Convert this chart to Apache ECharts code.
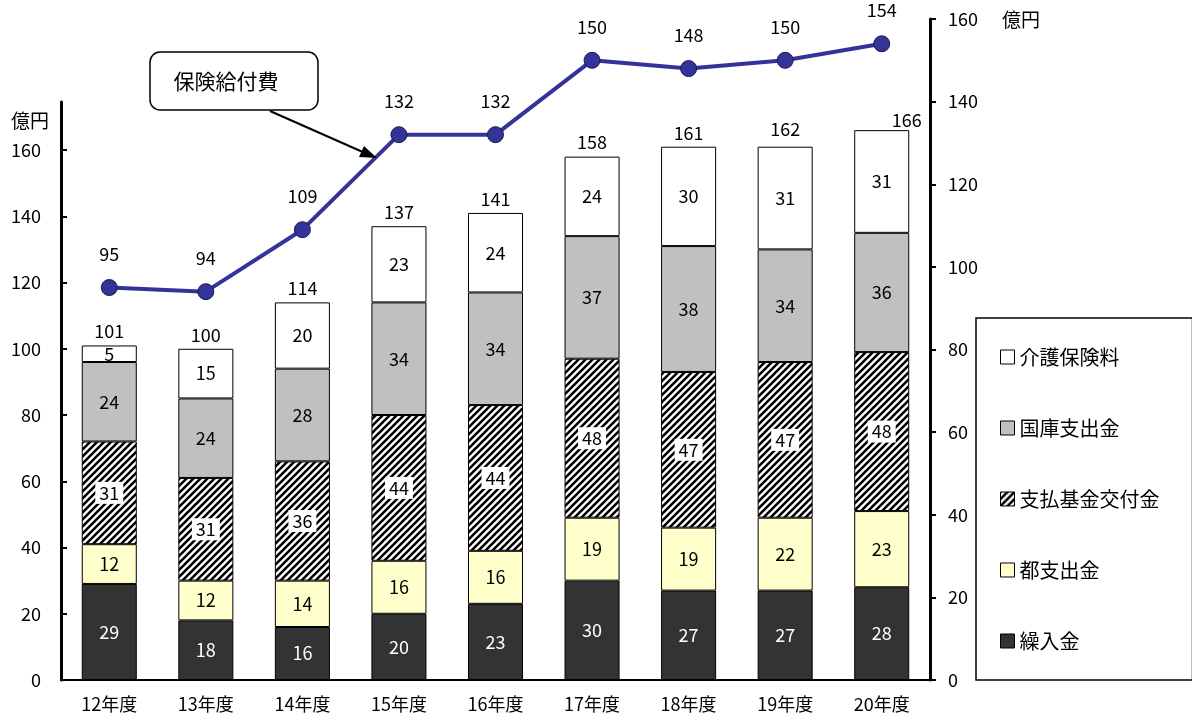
<!DOCTYPE html>
<html>
<head>
<meta charset="utf-8">
<title>介護保険 財源内訳</title>
<script src="https://cdn.jsdelivr.net/npm/echarts@6/dist/echarts.min.js"></script>
<style>
  html, body { margin: 0; padding: 0; background: #fff; }
  #chart { width: 1192px; height: 718px; }
</style>
</head>
<body>
<div id="chart"></div>
<script>
// データ
var years = ['12年度', '13年度', '14年度', '15年度', '16年度', '17年度', '18年度', '19年度', '20年度'];
var kurikomi = [29, 18, 16, 20, 23, 30, 27, 27, 28];      // 繰入金
var toShishutsu = [12, 12, 14, 16, 16, 19, 19, 22, 23];   // 都支出金
var shiharaiKikin = [31, 31, 36, 44, 44, 48, 47, 47, 48]; // 支払基金交付金
var kokko = [24, 24, 28, 34, 34, 37, 38, 34, 36];         // 国庫支出金
var hokenryo = [5, 15, 20, 23, 24, 24, 30, 31, 31];       // 介護保険料
var totals = [101, 100, 114, 137, 141, 158, 161, 162, 166];
var kyufuhi = [95, 94, 109, 132, 132, 150, 148, 150, 154]; // 保険給付費
var yTicks = [0, 20, 40, 60, 80, 100, 120, 140, 160];

var FONT = '"Noto Sans CJK JP", "Noto Sans", sans-serif';
var NUM_SIZE = 18;

// 斜線パターン
function makeHatch() {
  var s = 7;
  var c = document.createElement('canvas');
  c.width = s;
  c.height = s;
  var ctx = c.getContext('2d');
  ctx.fillStyle = '#fff';
  ctx.fillRect(0, 0, s, s);
  ctx.strokeStyle = '#000';
  ctx.lineWidth = 2.6;
  ctx.beginPath();
  ctx.moveTo(-1, 1); ctx.lineTo(1, -1);
  ctx.moveTo(0, s); ctx.lineTo(s, 0);
  ctx.moveTo(s - 1, s + 1); ctx.lineTo(s + 1, s - 1);
  ctx.stroke();
  return c;
}
var hatch = { image: makeHatch(), repeat: 'repeat' };

function barSeries(name, data, color, labelOpt) {
  return {
    name: name,
    type: 'bar',
    stack: 'total',
    xAxisIndex: 0,
    yAxisIndex: 0,
    barWidth: '57%',
    data: data,
    itemStyle: { color: color, borderColor: '#000', borderWidth: 1 },
    label: Object.assign({
      show: true,
      position: 'inside',
      fontFamily: FONT,
      fontSize: NUM_SIZE,
      color: '#000'
    }, labelOpt || {})
  };
}

// 合計ラベル（最後の年度だけ右にずらす）
var totalData = totals.map(function (v, i) {
  if (i === totals.length - 1) {
    return { value: v, label: { offset: [25, 4] } };
  }
  return v;
});

var chart = echarts.init(document.getElementById('chart'));
var option = {
  animation: false,
  textStyle: { fontFamily: FONT },
  grid: [
    { left: 61, right: 262, top: 102, bottom: 38 },
    { left: 61, right: 262, top: 19, bottom: 38 }
  ],
  xAxis: [
    {
      type: 'category',
      gridIndex: 0,
      data: years,
      axisLine: { lineStyle: { color: '#000', width: 2 } },
      axisTick: { show: false },
      axisLabel: { color: '#000', fontSize: 18, margin: 15, fontFamily: FONT }
    },
    {
      type: 'category',
      gridIndex: 1,
      data: years,
      show: false
    }
  ],
  yAxis: [
    {
      type: 'value',
      gridIndex: 0,
      min: 0,
      max: 174.5,
      position: 'left',
      splitLine: { show: false },
      axisLine: { show: true, lineStyle: { color: '#000', width: 3 } },
      axisTick: { show: true, inside: true, length: 6, customValues: yTicks, lineStyle: { color: '#000', width: 2 } },
      axisLabel: { color: '#000', fontSize: NUM_SIZE, margin: 20, customValues: yTicks, fontFamily: FONT }
    },
    {
      type: 'value',
      gridIndex: 1,
      min: 0,
      max: 160,
      interval: 20,
      position: 'right',
      splitLine: { show: false },
      axisLine: { show: true, lineStyle: { color: '#000', width: 3 } },
      axisTick: { show: true, length: 6, lineStyle: { color: '#000', width: 2 } },
      axisLabel: { color: '#000', fontSize: NUM_SIZE, margin: 18, fontFamily: FONT }
    }
  ],
  legend: {
    orient: 'vertical',
    left: 976,
    top: 318,
    padding: [29, 33, 29, 24],
    itemGap: 51,
    itemWidth: 14,
    itemHeight: 14,
    borderColor: '#000',
    borderWidth: 1.5,
    icon: 'rect',
    data: ['介護保険料', '国庫支出金', '支払基金交付金', '都支出金', '繰入金'],
    textStyle: { color: '#000', fontSize: 20, fontFamily: FONT },
    itemStyle: { borderColor: '#000', borderWidth: 1 }
  },
  series: [
    barSeries('繰入金', kurikomi, '#333333', { color: '#fff' }),
    barSeries('都支出金', toShishutsu, '#ffffcc'),
    barSeries('支払基金交付金', shiharaiKikin, hatch, { backgroundColor: '#fff', padding: [3, 4, 1, 4] }),
    barSeries('国庫支出金', kokko, '#c0c0c0'),
    barSeries('介護保険料', hokenryo, '#ffffff'),
    {
      name: '合計',
      type: 'scatter',
      xAxisIndex: 0,
      yAxisIndex: 0,
      symbolSize: 0,
      data: totalData,
      silent: true,
      itemStyle: { opacity: 1 },
      label: {
        show: true,
        position: 'top',
        distance: 5,
        fontSize: NUM_SIZE,
        color: '#000',
        fontFamily: FONT
      }
    },
    {
      name: '保険給付費',
      type: 'line',
      xAxisIndex: 1,
      yAxisIndex: 1,
      data: kyufuhi,
      symbol: 'circle',
      symbolSize: 16,
      lineStyle: { color: '#333399', width: 4 },
      itemStyle: { color: '#333399', borderColor: '#1a1a4d', borderWidth: 1 },
      label: {
        show: true,
        position: 'top',
        distance: 16,
        fontSize: NUM_SIZE,
        color: '#000',
        fontFamily: FONT
      },
      z: 5
    }
  ],
  graphic: [
    // 単位
    { type: 'text', left: 11, top: 111, style: { text: '億円', fontSize: 19, fill: '#000', fontFamily: FONT } },
    { type: 'text', left: 1002, top: 10, style: { text: '億円', fontSize: 19, fill: '#000', fontFamily: FONT } },
    // 吹き出し
    {
      type: 'rect',
      shape: { x: 150, y: 52, width: 168, height: 58, r: 10 },
      style: { fill: '#fff', stroke: '#000', lineWidth: 1.5 },
      z: 10
    },
    {
      type: 'text',
      x: 226,
      y: 81,
      style: { text: '保険給付費', fontSize: 21, fill: '#000', fontFamily: FONT, align: 'center', verticalAlign: 'middle' },
      z: 11
    },
    {
      type: 'line',
      shape: { x1: 270, y1: 111, x2: 365, y2: 153 },
      style: { stroke: '#000', lineWidth: 2 },
      z: 10
    },
    {
      type: 'polygon',
      shape: { points: [[377, 158], [359, 157], [364, 146]] },
      style: { fill: '#000' },
      z: 10
    }
  ]
};
chart.setOption(option);
</script>
</body>
</html>
